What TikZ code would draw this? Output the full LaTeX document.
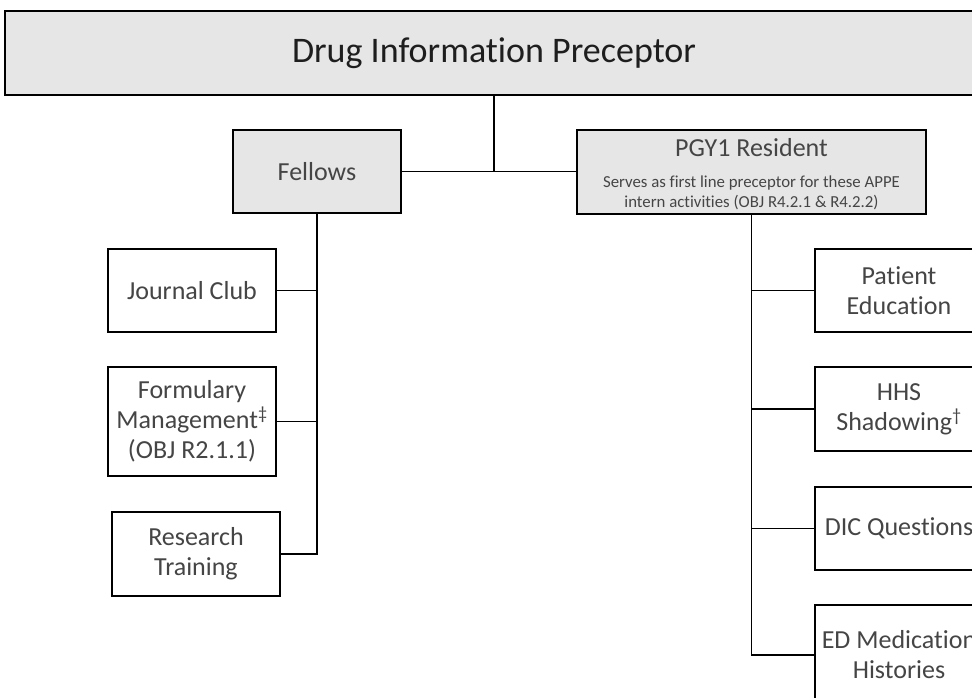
\documentclass[tikz,border=0pt]{standalone}
\usepackage{fontspec}
\setmainfont{Carlito}[Ligatures={NoCommon}]
\definecolor{boxgray}{HTML}{E7E6E6}
\definecolor{txt}{HTML}{454545}
\definecolor{ttl}{HTML}{1E1E1E}
\tikzset{
  box/.style={draw=black, line width=1.9pt, fill=white, inner sep=0pt, align=center, text=txt, font=\fontsize{26}{30}\selectfont},
  gbox/.style={box, fill=boxgray},
  conn/.style={draw=black, line width=1.9pt},
  lbl/.style={inner sep=0pt, align=center, text=txt},
}
\begin{document}
\begin{tikzpicture}[x=1pt,y=-1pt]
\useasboundingbox (0,0) rectangle (972,697);
\clip (0,0) rectangle (972,697);
% top
\node[gbox, minimum width=978pt, minimum height=84pt, text=ttl, font=\fontsize{36}{40}\selectfont] (top) at (494,53) {Drug Information Preceptor};
% second level
\node[gbox, minimum width=168pt, minimum height=83pt] (fel) at (317,171.5) {Fellows};
\node[gbox, minimum width=349pt, minimum height=84pt] (pgy) at (751.5,172) {};
\node[lbl, font=\fontsize{26}{30}\selectfont] (pgyt) at (751.5,148) {PGY1 Resident};
\node[lbl, font=\fontsize{16.8}{19.5}\selectfont] (pgys) at (751.5,193) {Serves as first line preceptor for these APPE\\intern activities (OBJ R4.2.1 \& R4.2.2)};
% left column
\node[box, minimum width=168pt, minimum height=83pt] (jc) at (192,290.5) {Journal Club};
\node[box, minimum width=168pt, minimum height=109pt] (fm) at (192,421.5) {Formulary\\Management\textsuperscript{‡}\\(OBJ R2.1.1)};
\node[box, minimum width=168pt, minimum height=84pt] (rt) at (196,554) {Research\\Training};
% right column
\node[box, minimum width=168pt, minimum height=83pt] (pe) at (899,290.5) {Patient\\Education};
\node[box, minimum width=168pt, minimum height=84pt] (hhs) at (899,409) {HHS\\Shadowing\textsuperscript{†}};
\node[box, minimum width=168pt, minimum height=83pt] (dic) at (899,528.5) {DIC Questions};
\node[box, minimum width=168pt, minimum height=100pt] (ed) at (899,655) {ED Medication\\Histories};
% connectors
\draw[conn] (top.south) -- (top.south |- fel.east);
\draw[conn] (fel.east) -- (pgy.west |- fel.east);
\draw[conn] (fel.south) -- (fel.south |- rt.east) -- (rt.east);
\draw[conn] (jc.east) -- (jc.east -| fel.south);
\draw[conn] (fm.east) -- (fm.east -| fel.south);
\draw[conn] (pgy.south) -- (pgy.south |- ed.west) -- (ed.west);
\draw[conn] (pe.west) -- (pe.west -| pgy.south);
\draw[conn] (hhs.west) -- (hhs.west -| pgy.south);
\draw[conn] (dic.west) -- (dic.west -| pgy.south);
\end{tikzpicture}
\end{document}
